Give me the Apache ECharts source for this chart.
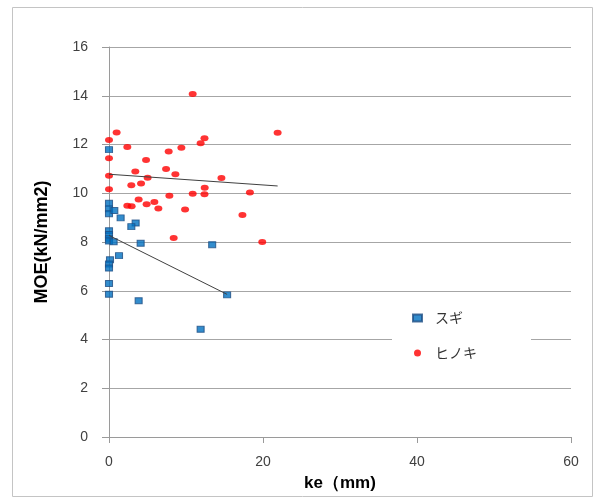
<!DOCTYPE html>
<html>
<head>
<meta charset="utf-8">
<script src="https://cdn.jsdelivr.net/npm/echarts@6/dist/echarts.min.js"></script>
<style>html,body{margin:0;padding:0;background:#fff;}#c{width:593px;height:497px;}</style>
</head>
<body>
<div id="c"></div>
<script>
// スギ (ke, MOE)
const sugiKe  = [0, 0, 0, 0, 0.69, 1.51, 3.46, 2.9, 0, 0, 0, 0, 0.6, 4.11, 13.4, 1.3, 0.13, 0, 0, 0, 0, 15.34, 3.85, 11.9];
const sugiMoe = [11.79, 9.59, 9.36, 9.16, 9.29, 8.99, 8.78, 8.63, 8.46, 8.31, 8.15, 8.04, 8.01, 7.95, 7.89, 7.44, 7.27, 7.1, 6.93, 6.3, 5.86, 5.83, 5.59, 4.42];
// ヒノキ (ke, MOE)
const hinokiKe  = [10.87, 0.99, 21.9, 0, 12.4, 11.9, 2.38, 9.4, 7.75, 0, 4.81, 7.41, 3.42, 8.62, 0, 5.02, 14.6, 2.9, 4.16, 12.43, 0, 18.3, 10.87, 12.4, 7.84, 3.85, 5.89, 2.38, 2.94, 4.89, 6.41, 9.88, 17.33, 8.4, 19.9];
const hinokiMoe = [14.07, 12.49, 12.48, 12.18, 12.26, 12.05, 11.9, 11.87, 11.71, 11.44, 11.36, 10.99, 10.89, 10.78, 10.72, 10.64, 10.63, 10.33, 10.4, 10.23, 10.16, 10.03, 9.98, 9.96, 9.9, 9.74, 9.64, 9.49, 9.47, 9.55, 9.37, 9.33, 9.11, 8.16, 8.0];
const seriesNames = ['スギ', 'ヒノキ'];
const xTicks = [0, 20, 40, 60];
const yTicks = [0, 2, 4, 6, 8, 10, 12, 14, 16];

function pairs(xs, ys) { return xs.map((x, i) => [x, ys[i]]); }
function trend(xs, ys) {
  const n = xs.length;
  const mx = xs.reduce((a, b) => a + b, 0) / n;
  const my = ys.reduce((a, b) => a + b, 0) / n;
  let sxy = 0, sxx = 0;
  for (let i = 0; i < n; i++) { sxy += (xs[i] - mx) * (ys[i] - my); sxx += (xs[i] - mx) * (xs[i] - mx); }
  const b = sxy / sxx, a = my - b * mx;
  const x0 = Math.min(...xs), x1 = Math.max(...xs);
  return [[x0, a + b * x0], [x1, a + b * x1]];
}

const ellipse = 'path://M-1,0A1,1,0,1,1,1,0A1,1,0,1,1,-1,0Z';
const chart = echarts.init(document.getElementById('c'), null, { renderer: 'canvas' });
const labelFont = { fontFamily: 'Liberation Sans', fontSize: 14, color: '#404040' };

chart.setOption({
  animation: false,
  backgroundColor: '#fff',
  graphic: [{
    type: 'rect', left: 12, top: 7, z: -1,
    shape: { width: 580, height: 489 },
    style: { fill: '#fff', stroke: '#c4c4c4', lineWidth: 1 }
  }],
  grid: { left: 109, right: 22, top: 47, bottom: 60 },
  xAxis: {
    type: 'value', min: xTicks[0], max: xTicks[xTicks.length - 1], interval: 20,
    name: 'ke（mm)', nameLocation: 'middle', nameGap: 38,
    nameTextStyle: { fontFamily: 'Liberation Sans', fontSize: 17, fontWeight: 'bold', color: '#000' },
    axisLine: { onZero: false, lineStyle: { color: '#9a9a9a' } },
    axisTick: { show: true, inside: false, length: 6, lineStyle: { color: '#9a9a9a' } },
    axisLabel: Object.assign({ margin: 18 }, labelFont),
    splitLine: { show: false }
  },
  yAxis: {
    type: 'value', min: yTicks[0], max: yTicks[yTicks.length - 1], interval: 2,
    name: 'MOE(kN/mm2)', nameLocation: 'middle', nameGap: 58,
    nameTextStyle: { fontFamily: 'Liberation Sans', fontSize: 18, fontWeight: 'bold', color: '#000' },
    axisLine: { show: true, onZero: false, lineStyle: { color: '#9a9a9a' } },
    axisTick: { show: true, inside: false, length: 7, lineStyle: { color: '#9a9a9a' } },
    axisLabel: Object.assign({ margin: 21 }, labelFont),
    splitLine: { show: true, lineStyle: { color: '#a6a6a6', width: 1 } }
  },
  legend: {
    orient: 'vertical', left: 392, top: 298,
    backgroundColor: '#fff',
    padding: [12, 54, 14, 20],
    itemWidth: 9, itemHeight: 7, itemGap: 19,
    textStyle: { fontFamily: 'Noto Sans CJK JP', fontSize: 14, color: '#333', lineHeight: 16, padding: [0, 0, 0, 8] },
    data: [
      { name: seriesNames[0], icon: 'rect' },
      { name: seriesNames[1], icon: 'circle' }
    ]
  },
  series: [
    {
      name: seriesNames[0], type: 'scatter', symbol: 'rect', symbolSize: [7, 6], z: 3,
      itemStyle: { color: '#0070c0', borderColor: '#1f4f85', borderWidth: 1 },
      data: pairs(sugiKe, sugiMoe)
    },
    {
      name: seriesNames[1], type: 'scatter', symbol: ellipse, symbolSize: [8, 6], z: 3,
      itemStyle: { color: '#ff0000' },
      data: pairs(hinokiKe, hinokiMoe)
    },
    {
      type: 'line', showSymbol: false, symbol: 'none', silent: true, z: 4,
      lineStyle: { color: '#404040', width: 1 },
      data: trend(sugiKe, sugiMoe)
    },
    {
      type: 'line', showSymbol: false, symbol: 'none', silent: true, z: 4,
      lineStyle: { color: '#404040', width: 1 },
      data: trend(hinokiKe, hinokiMoe)
    }
  ]
});
</script>
</body>
</html>
